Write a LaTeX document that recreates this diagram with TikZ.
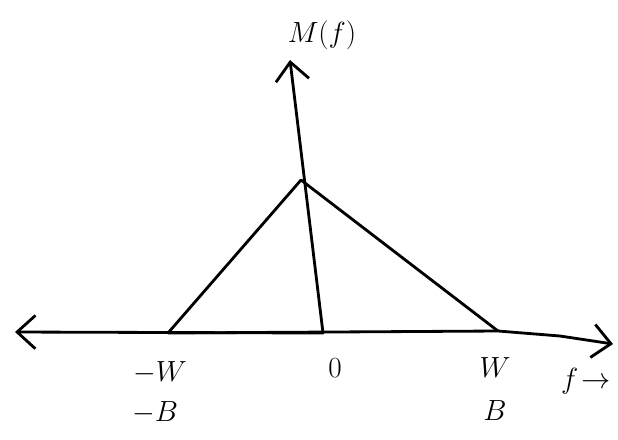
\documentclass[tikz,border=0pt]{standalone}
\usetikzlibrary{arrows.meta}

\begin{document}
\begin{tikzpicture}[
  x=0.03cm, y=-0.03cm,
  every node/.style = {font=\fontsize{30}{34}\selectfont, inner sep=1pt},
  axis/.style  = {line width=2.4pt, line cap=round,
                  -{Straight Barb[length=5.5mm,width=10mm,line width=2.4pt]}},
  curve/.style = {line width=2.4pt, line join=round},
]
\useasboundingbox (0,0) rectangle (618,439);
% axes end points
\coordinate (O)    at (323,333);
\coordinate (Xl)   at (15,332);
\coordinate (Xr)   at (613,344);
\coordinate (Ytop) at (290,60);
% spectrum corners
\coordinate (Lw)   at (168,333);
\coordinate (Apex) at (301,180);
\coordinate (Rw)   at (498,331);

\draw[axis] (O) -- (Xl);
\draw[axis] (Lw) -- (Rw) -- (560,336) -- (Xr);
\draw[axis] (O) -- (Ytop);
\draw[curve] (Lw) -- (Apex) -- (Rw);

\node (lblM)  at (322,35)  {$M(f)$};
\node (lblmW) at (160,373) {$-W$};
\node (lblmB) at (155,413) {$-B$};
\node (lbl0)  at (335,368) {$0$};
\node (lblW)  at (495,368) {$W$};
\node (lblB)  at (495,411) {$B$};
\node (lblf)  at (586,381) {$f\!\rightarrow$};
\end{tikzpicture}
\end{document}
